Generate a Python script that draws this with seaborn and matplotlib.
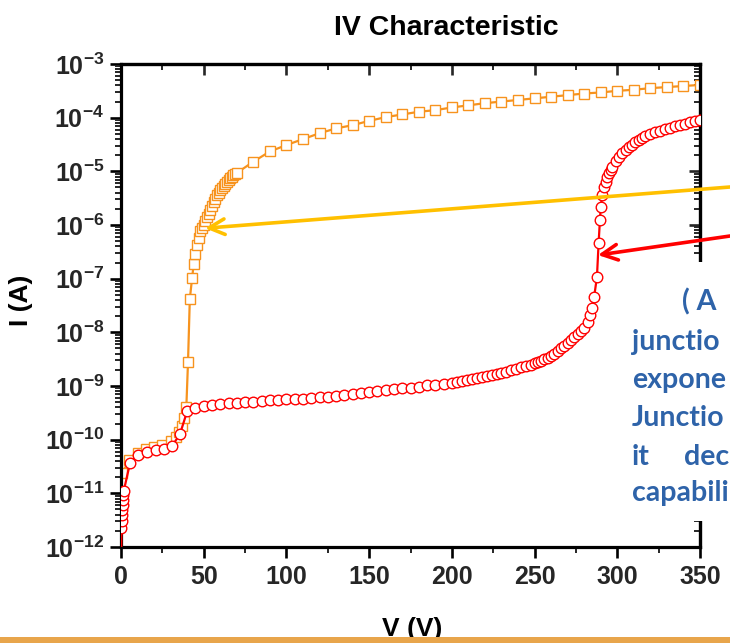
import numpy as np
import pandas as pd
import matplotlib
matplotlib.use("Agg")
import matplotlib.pyplot as plt
import seaborn as sns
from matplotlib.ticker import LogLocator, MultipleLocator, NullFormatter
from matplotlib.patches import Rectangle

# ---------------- data ----------------
# red series (circles): voltage (V) and log10 of current (A)
red_V = [0, 0.3, 0.5, 0.7, 0.9, 1.1, 1.3, 1.5, 1.7, 5.5, 10.5, 15.5, 21, 26, 31, 35.6,
         40, 45, 50, 55, 60, 65, 70, 75, 80, 85, 90, 95, 100, 105, 110, 115, 120, 125,
         130, 135, 140, 145, 150, 155, 160, 165, 170, 175, 180, 185, 190, 195,
         200, 203, 206, 209, 212, 215, 218, 221, 224, 227, 230, 233, 236, 239, 242, 245,
         248, 250, 252, 254, 256, 258, 260, 262, 264, 266, 268, 270, 272, 274, 276, 278,
         280, 282, 283.5, 284.6, 286, 287.7, 288.7, 289.5, 290, 291, 292, 293, 294, 295,
         296, 297, 299, 301, 303, 305, 307, 309, 311, 313, 315, 317, 320, 323, 326, 329,
         332, 335, 338, 341, 344, 347, 350]
red_log10_I = [-12.3, -11.65, -11.52, -11.40, -11.31, -11.21, -11.12, -11.03, -10.95, -10.43,
               -10.28, -10.23, -10.20, -10.17, -10.11, -9.90,
               -9.47, -9.41, -9.37, -9.35, -9.33, -9.32, -9.31, -9.30, -9.29, -9.28, -9.27,
               -9.26, -9.25, -9.245, -9.24, -9.23, -9.21, -9.20, -9.18, -9.17, -9.15, -9.135,
               -9.12, -9.10, -9.08, -9.06, -9.045, -9.03, -9.01, -8.99, -8.98, -8.955,
               -8.94, -8.92, -8.90, -8.88, -8.87, -8.85, -8.83, -8.81, -8.79, -8.77, -8.75,
               -8.73, -8.70, -8.68, -8.65, -8.63, -8.60, -8.58, -8.55, -8.53, -8.50, -8.47,
               -8.44, -8.40, -8.35, -8.30, -8.25, -8.19, -8.14, -8.09, -8.04, -7.98,
               -7.91, -7.80, -7.68, -7.55, -7.34, -6.97, -6.34, -5.91, -5.66, -5.44, -5.30,
               -5.19, -5.10, -5.03, -4.97, -4.91, -4.81, -4.73, -4.66, -4.60, -4.55, -4.50,
               -4.46, -4.42, -4.38, -4.35, -4.31, -4.27, -4.24, -4.21, -4.19, -4.16, -4.13,
               -4.11, -4.09, -4.07, -4.05]

# orange series (squares)
orange_V = [0.8, 5, 10, 15, 20, 25, 30, 33, 35, 36.6, 38.2, 39.5, 40.5, 41.6, 43, 44, 45, 46,
            47, 48, 49, 50, 51, 52, 53, 54, 55, 56, 57, 58, 59, 60, 61, 62, 63, 64, 65, 66,
            67, 68, 69, 70, 80, 90, 100, 110, 120, 130, 140, 150, 160, 170, 180, 190, 200,
            210, 220, 230, 240, 250, 260, 270, 280, 290, 300, 310, 320, 330, 340, 350]
orange_log10_I = [-10.62, -10.38, -10.24, -10.18, -10.14, -10.10, -10.03, -9.95, -9.85, -9.75,
                  -9.59, -9.39, -8.56, -7.38, -6.98, -6.72, -6.54, -6.37, -6.25, -6.12, -6.06,
                  -6.00, -5.93, -5.86, -5.79, -5.72, -5.65, -5.58, -5.51, -5.45, -5.40, -5.35,
                  -5.31, -5.27, -5.23, -5.20, -5.16, -5.13, -5.10, -5.07, -5.05, -5.03, -4.82,
                  -4.63, -4.51, -4.40, -4.29, -4.20, -4.14, -4.06, -3.99, -3.94, -3.89, -3.86,
                  -3.81, -3.77, -3.73, -3.70, -3.67, -3.64, -3.61, -3.58, -3.55, -3.53, -3.50,
                  -3.48, -3.45, -3.43, -3.41, -3.39]

x_ticks = [0, 50, 100, 150, 200, 250, 300, 350]
title = "IV Characteristic"
x_label = "V (V)"
y_label = "I (A)"
# visible part of the slide's note text (the slide is cropped at the right edge)
note_lines = ["( A", "junctio", "expone", "Junctio", "it", "capabili"]
note_extra = "dec"

# arrow targets (V, log10 I)
gold_tip = (50.8, -6.06)
red_tip = (288.3, -6.56)

ORANGE = "#F7931E"
RED = "#FF0000"
GOLD = "#FFC000"
BLUE = "#2E63A9"

# ---------------- style ----------------
sns.set_style("ticks")
plt.rcParams.update({
    "font.family": ["Liberation Sans", "DejaVu Sans"],
    "font.weight": "bold",
    "mathtext.fontset": "custom",
    "mathtext.rm": "Liberation Sans:bold",
    "mathtext.it": "Liberation Sans:bold:italic",
    "mathtext.bf": "Liberation Sans:bold",
    "mathtext.default": "rm",
    "axes.unicode_minus": True,
})

W, H = 730, 643
fig = plt.figure(figsize=(W / 100, H / 100), dpi=100, facecolor="white")
ax = fig.add_axes([121 / W, (H - 547) / H, 579 / W, 483 / H])

df_o = pd.DataFrame({"V": orange_V, "I": np.power(10.0, orange_log10_I)})
df_r = pd.DataFrame({"V": red_V, "I": np.power(10.0, red_log10_I)})

sns.lineplot(data=df_o, x="V", y="I", ax=ax, estimator=None, sort=False,
             color=ORANGE, linewidth=1.6, marker="s", markersize=7.3,
             markerfacecolor="white", markeredgecolor=ORANGE, markeredgewidth=1.0,
             zorder=2)
sns.lineplot(data=df_r, x="V", y="I", ax=ax, estimator=None, sort=False,
             color=RED, linewidth=1.6, marker="o", markersize=7.6,
             markerfacecolor="white", markeredgecolor=RED, markeredgewidth=1.0,
             zorder=3)

ax.set_yscale("log")
ax.set_xlim(0, 350)
ax.set_ylim(1e-12, 1e-3)
ax.set_xlabel("")
ax.set_ylabel("")
ax.set_xticks(x_ticks)
ax.xaxis.set_minor_locator(MultipleLocator(25))
ax.yaxis.set_major_locator(LogLocator(base=10, numticks=20))
ax.yaxis.set_minor_locator(LogLocator(base=10, subs=np.arange(2, 10), numticks=20))
ax.yaxis.set_minor_formatter(NullFormatter())

for s in ax.spines.values():
    s.set_visible(True)
    s.set_linewidth(2.3)
    s.set_color("black")

ax.tick_params(axis="both", which="major", direction="out", length=8, width=1.9,
               labelsize=18, color="black", top=False, right=False)
ax.tick_params(axis="both", which="minor", direction="out", length=4.5, width=1.4,
               top=False, right=False)
ax.tick_params(axis="x", which="major", pad=5)
ax.tick_params(axis="y", which="major", pad=4)
for lab in ax.get_xticklabels() + ax.get_yticklabels():
    lab.set_fontweight("bold")

# inward ticks on top / right
top = ax.secondary_xaxis("top")
top.set_xticks(x_ticks)
top.xaxis.set_minor_locator(MultipleLocator(25))
top.tick_params(which="major", direction="in", length=8, width=1.9, labeltop=False)
top.tick_params(which="minor", direction="in", length=4.5, width=1.4)
top.spines["top"].set_linewidth(2.3)

right = ax.secondary_yaxis("right")
right.yaxis.set_major_locator(LogLocator(base=10, numticks=20))
right.yaxis.set_minor_locator(LogLocator(base=10, subs=np.arange(2, 10), numticks=20))
right.yaxis.set_minor_formatter(NullFormatter())
right.tick_params(which="major", direction="in", length=8, width=1.9, labelright=False)
right.tick_params(which="minor", direction="in", length=4.5, width=1.4)
right.spines["right"].set_linewidth(2.3)

# arrows
ax.annotate("", xy=(gold_tip[0], 10 ** gold_tip[1]), xycoords="data",
            xytext=(1.0, 1 - 187 / H), textcoords="figure fraction",
            arrowprops=dict(arrowstyle="->", color=GOLD, lw=2.6, mutation_scale=28,
                            shrinkA=0, shrinkB=0),
            annotation_clip=False, zorder=6)
ax.annotate("", xy=(red_tip[0], 10 ** red_tip[1]), xycoords="data",
            xytext=(1.0, 1 - 236 / H), textcoords="figure fraction",
            arrowprops=dict(arrowstyle="->", color=RED, lw=2.6, mutation_scale=28,
                            shrinkA=0, shrinkB=0),
            annotation_clip=False, zorder=6)

# titles / labels
fig.text(446 / W, 1 - 28 / H, title, ha="center", va="center", fontsize=20.5,
         fontweight="bold", color="black")
fig.text(21 / W, 1 - 300 / H, y_label, ha="center", va="center", rotation=90,
         fontsize=19, fontweight="bold", color="black")
fig.text(412 / W, 1 - 636 / H, x_label, ha="center", va="baseline",
         fontsize=19, fontweight="bold", color="black")

# white note box with text (cropped slide)
fig.add_artist(Rectangle((612 / W, (H - 521) / H), 1 - 612 / W, (521 - 262) / H,
                         transform=fig.transFigure, facecolor="white",
                         edgecolor="none", zorder=5))
note_font = dict(fontsize=20.5, fontweight="bold", color=BLUE,
                 family=["Lato", "DejaVu Sans"], va="center", ha="left", zorder=7)
note_y = [301.7, 341.7, 380, 418, 456.7, 493]
note_x = [682, 632, 632, 632, 632, 632]
for txt, xx, yy in zip(note_lines, note_x, note_y):
    fig.text(xx / W, 1 - yy / H, txt, **note_font)
fig.text(684 / W, 1 - 456.7 / H, note_extra, **note_font)

# bottom orange slide border
fig.add_artist(Rectangle((0, 0), 1, 6 / H, transform=fig.transFigure,
                         facecolor="#E8A54B", edgecolor="none", zorder=10))

fig.savefig("out.png", dpi=100, facecolor="white")
